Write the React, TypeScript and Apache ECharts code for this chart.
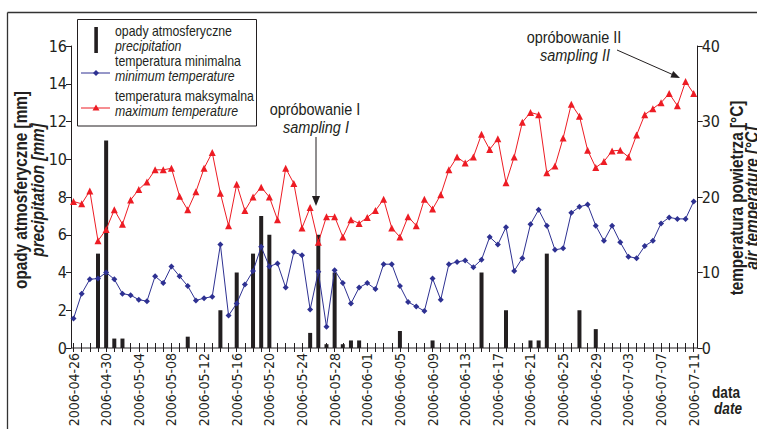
import React, { useEffect, useRef } from "react";
import * as echarts from "echarts";

const F = "'Liberation Sans Narrow', 'Arial Narrow', 'DejaVu Sans Condensed', sans-serif";
const G = "'Liberation Sans', Arial, sans-serif";
const INK = "#231f20";
const BLUE = "#2e3192";
const RED = "#ed1c24";

// 77 daily categories, 2006-04-26 .. 2006-07-11
const START = Date.UTC(2006, 3, 26);
const dates: string[] = Array.from({ length: 77 }, (_, i) =>
  new Date(START + i * 86400000).toISOString().slice(0, 10)
);

const precipitation = [
  0, 0, 0, 5.0, 11.0, 0.5, 0.5, 0, 0, 0,
  0, 0, 0, 0, 0.6, 0, 0, 0, 2.0, 0,
  4.0, 0, 5.0, 7.0, 6.0, 0, 0, 0, 0, 0.8,
  6.0, 0.2, 4.0, 0.2, 0.4, 0.4, 0, 0, 0, 0,
  0.9, 0, 0, 0, 0.4, 0, 0, 0, 0, 0,
  4.0, 0, 0, 2.0, 0, 0, 0.4, 0.4, 5.0, 0,
  0, 0, 2.0, 0, 1.0, 0, 0, 0, 0, 0,
  0, 0, 0, 0, 0, 0, 0,
];

const tempMin = [
  3.9, 7.2, 9.1, 9.2, 10.0, 9.1, 7.2, 7.0, 6.4, 6.2,
  9.5, 8.6, 10.8, 9.5, 8.2, 6.3, 6.6, 6.8, 13.7, 4.3,
  5.9, 8.4, 10.2, 13.4, 10.8, 11.2, 8.0, 12.7, 12.3, 5.1,
  10.1, 2.8, 10.3, 8.6, 5.9, 8.0, 8.6, 7.8, 11.1, 11.1,
  8.2, 6.1, 5.5, 4.9, 9.2, 6.4, 11.1, 11.4, 11.6, 10.7,
  11.7, 14.7, 13.7, 16.0, 10.2, 11.9, 16.4, 18.3, 16.2, 13.0,
  13.2, 17.9, 18.7, 19.0, 16.2, 14.2, 16.2, 14.0, 12.1, 11.9,
  13.5, 14.2, 16.5, 17.3, 17.1, 17.1, 19.4,
];

const tempMax = [
  19.4, 19.1, 20.8, 14.2, 15.7, 18.3, 16.4, 19.6, 21.0, 22.0,
  23.6, 23.6, 23.8, 20.1, 18.3, 20.7, 23.8, 25.9, 20.5, 16.2,
  21.7, 18.2, 20.0, 21.3, 20.0, 17.0, 23.8, 21.8, 15.9, 18.6,
  14.0, 17.4, 17.4, 14.7, 17.0, 16.5, 17.3, 18.2, 19.7, 15.9,
  14.7, 17.4, 16.2, 19.7, 18.4, 20.3, 23.6, 25.3, 24.5, 25.3,
  28.3, 26.3, 27.7, 21.9, 25.3, 29.9, 31.2, 30.9, 23.2, 24.1,
  27.8, 32.3, 30.7, 26.2, 23.9, 24.7, 26.1, 26.2, 25.3, 28.2,
  30.9, 31.7, 32.5, 33.7, 32.1, 35.3, 33.7,
];

// narrow-looking text: Liberation Sans compressed horizontally
const txt = (
  x: number, y: number, text: string, size: number,
  opts: { bold?: boolean; italic?: boolean; align?: string; rot?: number; sx?: number } = {}
) => ({
  type: "text",
  x, y,
  rotation: opts.rot || 0,
  scaleX: opts.sx ?? 0.82,
  style: {
    text,
    fill: INK,
    font: `${opts.italic ? "italic " : ""}${opts.bold ? "bold " : ""}${size}px ${G}`,
    align: opts.align || "left",
    verticalAlign: "middle",
  },
  z: 100,
});

export default function App() {
  const ref = useRef<HTMLDivElement>(null);
  useEffect(() => {
    const chart = echarts.init(ref.current!, null, { renderer: "svg" });
    const grid = { left: 73.5, right: 63.3, top: 46, bottom: 81, outerBoundsMode: "none", containLabel: false };
    const option: any = {
      animation: false,
      backgroundColor: "#fff",
      grid: [grid, { ...grid }],
      xAxis: [
        {
          type: "category", gridIndex: 0, data: dates, boundaryGap: false,
          axisLine: { show: false },
          axisTick: { show: true, interval: 0, length: 4, lineStyle: { color: INK, width: 1 } },
          axisLabel: { interval: 3, rotate: 90, fontSize: 14, fontFamily: F, color: INK, margin: 5 },
          splitLine: { show: false },
        },
        {
          type: "category", gridIndex: 1, data: dates, boundaryGap: false,
          axisLine: { show: false },
          axisTick: { show: true, inside: true, interval: 0, length: 5, lineStyle: { color: INK, width: 1 } },
          axisLabel: { show: false },
          splitLine: { show: false },
        },
      ],
      yAxis: [
        {
          type: "value", gridIndex: 0, min: 0, max: 16, interval: 2, position: "left", offset: 2.5,
          axisLine: { show: true, lineStyle: { color: INK, width: 1 } },
          axisTick: { show: true, length: 5, lineStyle: { color: INK } },
          axisLabel: { fontSize: 16, fontFamily: F, color: INK, margin: 4 },
          splitLine: { show: false },
        },
        {
          type: "value", gridIndex: 0, min: 0, max: 40, interval: 10, position: "right", offset: 4,
          axisLine: { show: true, lineStyle: { color: INK, width: 1 } },
          axisTick: { show: true, length: 5, lineStyle: { color: INK } },
          axisLabel: { fontSize: 16, fontFamily: F, color: INK, margin: 4 },
          splitLine: { show: false },
        },
        { type: "value", gridIndex: 1, show: false, min: 0, max: 16 },
      ],
      series: [
        {
          name: "opady atmosferyczne", type: "bar", xAxisIndex: 0, yAxisIndex: 0,
          data: precipitation, barWidth: 4, itemStyle: { color: INK }, z: 2,
        },
        {
          name: "temperatura minimalna", type: "line", xAxisIndex: 0, yAxisIndex: 1,
          data: tempMin, symbol: "diamond", symbolSize: 6, showAllSymbol: true,
          lineStyle: { color: BLUE, width: 1 }, itemStyle: { color: BLUE }, z: 3,
        },
        {
          name: "temperatura maksymalna", type: "line", xAxisIndex: 0, yAxisIndex: 1,
          data: tempMax, symbol: "triangle", symbolSize: 7, showAllSymbol: true,
          lineStyle: { color: RED, width: 1 }, itemStyle: { color: RED }, z: 4,
        },
      ],
      graphic: [
        // frame
        { type: "line", shape: { x1: 7.5, y1: 12.5, x2: 757, y2: 12.5 }, style: { stroke: "#333", lineWidth: 1.3 } },
        { type: "line", shape: { x1: 7.5, y1: 12.5, x2: 7.5, y2: 429 }, style: { stroke: "#333", lineWidth: 1.3 } },
        // x axis line
        { type: "line", shape: { x1: 71, y1: 348, x2: 698, y2: 348 }, style: { stroke: INK, lineWidth: 1 }, z: 50 },
        // legend box
        { type: "rect", shape: { x: 77.5, y: 19.5, width: 179, height: 106.5 }, style: { fill: "#fff", stroke: INK, lineWidth: 1 }, z: 90 },
        { type: "rect", shape: { x: 94.3, y: 27, width: 3.6, height: 26 }, style: { fill: INK }, z: 100 },
        { type: "line", shape: { x1: 81, y1: 73, x2: 110, y2: 73 }, style: { stroke: BLUE, lineWidth: 1 }, z: 100 },
        { type: "polygon", shape: { points: [[96, 70], [99, 73], [96, 76], [93, 73]] }, style: { fill: BLUE }, z: 100 },
        { type: "line", shape: { x1: 81, y1: 108, x2: 110, y2: 108 }, style: { stroke: RED, lineWidth: 1 }, z: 100 },
        { type: "polygon", shape: { points: [[96, 104.5], [99.5, 110.5], [92.5, 110.5]] }, style: { fill: RED }, z: 100 },
        txt(115, 31.5, "opady atmosferyczne", 14, { sx: 0.88 }),
        txt(115, 46, "precipitation", 14, { italic: true, sx: 0.88 }),
        txt(115, 61, "temperatura minimalna", 14, { sx: 0.88 }),
        txt(115, 76.5, "minimum temperature", 14, { italic: true, sx: 0.88 }),
        txt(115, 96, "temperatura maksymalna", 14, { sx: 0.88 }),
        txt(115, 111.5, "maximum temperature", 14, { italic: true, sx: 0.88 }),
        // annotations
        txt(315, 109, "opróbowanie I", 17, { align: "center", sx: 0.85 }),
        txt(316, 127.5, "sampling I", 17, { italic: true, align: "center", sx: 0.85 }),
        { type: "line", shape: { x1: 316, y1: 137, x2: 316, y2: 198 }, style: { stroke: INK, lineWidth: 1 }, z: 100 },
        { type: "polygon", shape: { points: [[312, 196], [320, 196], [316, 206]] }, style: { fill: INK }, z: 100 },
        txt(574, 37, "opróbowanie II", 17, { align: "center", sx: 0.85 }),
        txt(575, 55.5, "sampling II", 17, { italic: true, align: "center", sx: 0.85 }),
        { type: "line", shape: { x1: 617, y1: 50, x2: 672, y2: 74.3 }, style: { stroke: INK, lineWidth: 1 }, z: 100 },
        { type: "polygon", shape: { points: [[680, 78], [670.4, 77.5], [673.2, 71.1]] }, style: { fill: INK }, z: 100 },
        // axis names
        txt(21, 190, "opady atmosferyczne [mm]", 18, { bold: true, align: "center", rot: Math.PI / 2, sx: 0.85 }),
        txt(38.5, 190, "precipitation [mm]", 18, { bold: true, italic: true, align: "center", rot: Math.PI / 2, sx: 0.85 }),
        txt(737.5, 198, "temperatura powietrza [°C]", 18, { bold: true, align: "center", rot: Math.PI / 2, sx: 0.85 }),
        txt(752, 198, "air temperature [°C]", 18, { bold: true, italic: true, align: "center", rot: Math.PI / 2, sx: 0.85 }),
        txt(726, 393, "data", 16, { bold: true, align: "center", sx: 0.85 }),
        txt(728, 409, "date", 16, { bold: true, italic: true, align: "center", sx: 0.85 }),
      ],
    };
    chart.setOption(option);
    return () => chart.dispose();
  }, []);
  return (
    <div
      ref={ref}
      style={{ position: "fixed", left: 0, top: 0, width: 757, height: 429, background: "#fff" }}
    />
  );
}
